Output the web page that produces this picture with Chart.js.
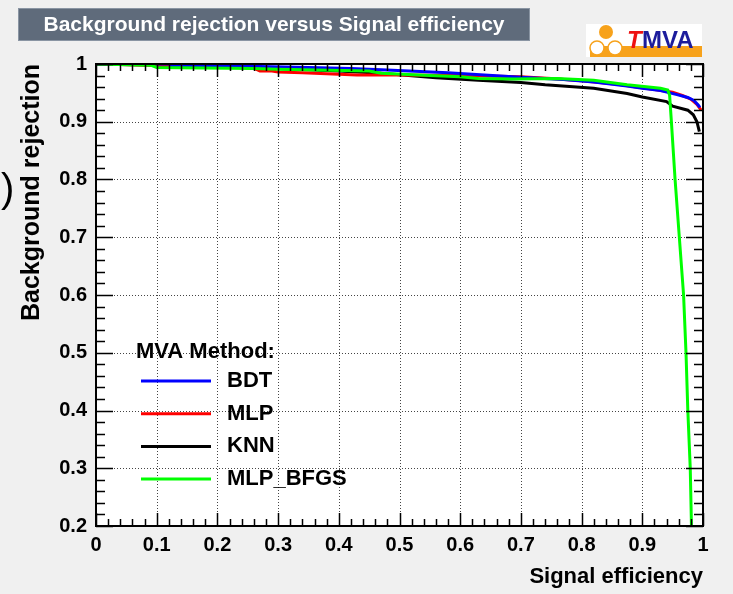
<!DOCTYPE html>
<html>
<head>
<meta charset="utf-8">
<title>Background rejection versus Signal efficiency</title>
<script src="https://cdn.jsdelivr.net/npm/chart.js@4.4.0/dist/chart.umd.min.js"></script>
<style>
  body { margin: 0; background: #f0f0f0; }
</style>
</head>
<body>
<canvas id="rocChart" width="733" height="594"></canvas>
<script>
// curve values (signal efficiency -> background rejection)
const bdtX = [0, 0.12, 0.125, 0.25, 0.35, 0.42, 0.47, 0.58, 0.70, 0.77, 0.82, 0.875, 0.90, 0.93, 0.957, 0.975, 0.985, 0.992, 0.995];
const bdtY = [1.0, 1.0, 0.997, 0.996, 0.994, 0.992, 0.990, 0.985, 0.977, 0.973, 0.969, 0.962, 0.958, 0.954, 0.947, 0.942, 0.937, 0.929, 0.925];

const mlpX = [0, 0.1, 0.2, 0.26, 0.27, 0.29, 0.30, 0.34, 0.38, 0.43, 0.5, 0.6, 0.7, 0.75, 0.8, 0.85, 0.89, 0.92, 0.95, 0.967, 0.98, 0.99, 0.997];
const mlpY = [1.0, 0.998, 0.996, 0.993, 0.988, 0.988, 0.986, 0.985, 0.983, 0.981, 0.981, 0.980, 0.978, 0.975, 0.971, 0.966, 0.960, 0.956, 0.951, 0.945, 0.939, 0.930, 0.920];

const knnX = [0, 0.1, 0.2, 0.3, 0.4, 0.47, 0.56, 0.63, 0.70, 0.74, 0.78, 0.82, 0.875, 0.90, 0.94, 0.95, 0.975, 0.984, 0.99, 0.994];
const knnY = [1.0, 0.998, 0.995, 0.992, 0.988, 0.984, 0.976, 0.972, 0.968, 0.964, 0.961, 0.958, 0.949, 0.943, 0.935, 0.927, 0.920, 0.912, 0.900, 0.883];

const bfgsX = [0, 0.09, 0.1, 0.26, 0.3, 0.45, 0.47, 0.55, 0.6, 0.63, 0.69, 0.76, 0.82, 0.875, 0.93, 0.942, 0.945, 0.948, 0.954, 0.961, 0.968, 0.972, 0.975, 0.979, 0.981];
const bfgsY = [1.0, 0.998, 0.994, 0.992, 0.991, 0.988, 0.984, 0.980, 0.978, 0.975, 0.974, 0.975, 0.972, 0.964, 0.958, 0.955, 0.946, 0.899, 0.80, 0.70, 0.60, 0.50, 0.40, 0.30, 0.20];

const methodNames = ['BDT', 'MLP', 'KNN', 'MLP_BFGS'];
const methodColors = ['#0000ff', '#ff0000', '#000000', '#00ff00'];

const xTickValues = [0, 0.1, 0.2, 0.3, 0.4, 0.5, 0.6, 0.7, 0.8, 0.9, 1];
const xTickLabels = ['0', '0.1', '0.2', '0.3', '0.4', '0.5', '0.6', '0.7', '0.8', '0.9', '1'];
const yTickValues = [0.2, 0.3, 0.4, 0.5, 0.6, 0.7, 0.8, 0.9, 1];
const yTickLabels = ['0.2', '0.3', '0.4', '0.5', '0.6', '0.7', '0.8', '0.9', '1'];

const FONT = "'Liberation Sans', Arial, Helvetica, sans-serif";

function pts(xs, ys) {
    return xs.map((x, i) => ({ x: x, y: ys[i] }));
}

// ROOT style page: title box, logo, dotted grid, frame with inner ticks, legend
const rootStyle = {
    id: 'rootStyle',
    beforeDraw(chart) {
        const ctx = chart.ctx;
        const a = chart.chartArea;
        ctx.save();
        ctx.fillStyle = '#f0f0f0';
        ctx.fillRect(0, 0, chart.width, chart.height);
        ctx.fillStyle = '#ffffff';
        ctx.fillRect(a.left, a.top, a.right - a.left, a.bottom - a.top);

        // title box
        ctx.fillStyle = '#5f6b7b';
        ctx.fillRect(18, 8, 512, 33);
        ctx.strokeStyle = '#8a95a3';
        ctx.lineWidth = 1;
        ctx.strokeRect(18.5, 8.5, 511, 32);
        ctx.fillStyle = '#ffffff';
        ctx.font = 'bold 21px ' + FONT;
        ctx.textAlign = 'center';
        ctx.textBaseline = 'middle';
        ctx.fillText('Background rejection versus Signal efficiency', 274, 25);

        // TMVA logo
        ctx.fillStyle = '#ffffff';
        ctx.fillRect(586, 24, 116, 33);
        ctx.fillStyle = '#f7a21b';
        ctx.fillRect(590, 46, 112, 11);
        ctx.beginPath();
        ctx.arc(606, 32, 7, 0, Math.PI * 2);
        ctx.fill();
        ctx.fillStyle = '#ffffff';
        ctx.strokeStyle = '#f7a21b';
        ctx.lineWidth = 1.5;
        [597, 615].forEach(cx => {
            ctx.beginPath();
            ctx.arc(cx, 48, 7, 0, Math.PI * 2);
            ctx.fill();
            ctx.stroke();
        });
        ctx.textAlign = 'left';
        ctx.textBaseline = 'alphabetic';
        ctx.font = 'italic bold 24px ' + FONT;
        ctx.fillStyle = '#ee1111';
        ctx.fillText('T', 627, 48);
        ctx.font = 'bold 24px ' + FONT;
        ctx.fillStyle = '#1c1c9c';
        ctx.fillText('MVA', 642, 48);

        // stray bracket from the neighbouring figure at the left edge
        ctx.fillStyle = '#000000';
        ctx.font = '40px ' + FONT;
        ctx.fillText(')', 1, 202);
        ctx.restore();
    },
    beforeDatasetsDraw(chart) {
        const ctx = chart.ctx;
        const a = chart.chartArea;
        const xs = chart.scales.x, ys = chart.scales.y;
        ctx.save();
        ctx.strokeStyle = '#444444';
        ctx.lineWidth = 1;
        ctx.setLineDash([1, 2]);
        xTickValues.slice(1, -1).forEach(v => {
            const px = Math.round(xs.getPixelForValue(v)) + 0.5;
            ctx.beginPath();
            ctx.moveTo(px, a.top);
            ctx.lineTo(px, a.bottom);
            ctx.stroke();
        });
        yTickValues.slice(1, -1).forEach(v => {
            const py = Math.round(ys.getPixelForValue(v)) + 0.5;
            ctx.beginPath();
            ctx.moveTo(a.left, py);
            ctx.lineTo(a.right, py);
            ctx.stroke();
        });
        ctx.restore();
    },
    afterDatasetsDraw(chart) {
        const ctx = chart.ctx;
        const a = chart.chartArea;
        const xs = chart.scales.x, ys = chart.scales.y;
        ctx.save();
        ctx.strokeStyle = '#000000';
        ctx.lineWidth = 1.5;
        // ticks every 0.02, long ones every 0.1
        for (let i = 0; i <= 50; i++) {
            const px = Math.round(xs.getPixelForValue(i * 0.02)) + 0.5;
            const len = i % 5 === 0 ? 13 : 7;
            ctx.beginPath();
            ctx.moveTo(px, a.bottom);
            ctx.lineTo(px, a.bottom - len);
            ctx.moveTo(px, a.top);
            ctx.lineTo(px, a.top + len);
            ctx.stroke();
        }
        for (let i = 0; i <= 40; i++) {
            const py = Math.round(ys.getPixelForValue(0.2 + i * 0.02)) + 0.5;
            const len = i % 5 === 0 ? 17 : 9;
            ctx.beginPath();
            ctx.moveTo(a.left, py);
            ctx.lineTo(a.left + len, py);
            ctx.moveTo(a.right, py);
            ctx.lineTo(a.right - len, py);
            ctx.stroke();
        }
        ctx.lineWidth = 2;
        ctx.strokeRect(a.left, a.top, a.right - a.left, a.bottom - a.top);

        // legend
        ctx.fillStyle = '#000000';
        ctx.font = 'bold 22px ' + FONT;
        ctx.textAlign = 'left';
        ctx.textBaseline = 'middle';
        ctx.fillText('MVA Method:', 136, 352);
        chart.data.datasets.forEach((ds, i) => {
            const y = 381 + i * 32.7;
            ctx.strokeStyle = ds.borderColor;
            ctx.lineWidth = 3;
            ctx.beginPath();
            ctx.moveTo(141, y);
            ctx.lineTo(211, y);
            ctx.stroke();
            ctx.fillText(ds.label, 227, y);
        });
        ctx.restore();
    }
};

const datasets = [
    { label: methodNames[0], data: pts(bdtX, bdtY), borderColor: methodColors[0], order: 1 },
    { label: methodNames[1], data: pts(mlpX, mlpY), borderColor: methodColors[1], order: 2 },
    { label: methodNames[2], data: pts(knnX, knnY), borderColor: methodColors[2], order: 3 },
    { label: methodNames[3], data: pts(bfgsX, bfgsY), borderColor: methodColors[3], order: 0 }
].map(d => Object.assign(d, { borderWidth: 3, pointRadius: 0, tension: 0, fill: false }));

const config = {
    type: 'line',
    data: { datasets: datasets },
    options: {
        responsive: false,
        devicePixelRatio: 1,
        animation: false,
        layout: { padding: { left: 0, top: 64, right: 30, bottom: 0 } },
        plugins: {
            legend: { display: false },
            tooltip: { enabled: false }
        },
        scales: {
            x: {
                type: 'linear',
                min: 0,
                max: 1,
                afterFit(s) { s.height = 68; },
                afterBuildTicks(s) { s.ticks = xTickValues.map(v => ({ value: v })); },
                grid: { display: false, drawTicks: false },
                border: { display: false },
                ticks: {
                    callback: (v, i) => xTickLabels[i],
                    color: '#000',
                    font: { family: FONT, size: 20, weight: 'bold' },
                    padding: 7,
                    maxRotation: 0,
                    autoSkip: false
                },
                title: {
                    display: true,
                    text: 'Signal efficiency',
                    align: 'end',
                    color: '#000',
                    font: { family: FONT, size: 22, weight: 'bold' },
                    padding: { top: 0, bottom: 4 }
                }
            },
            y: {
                type: 'linear',
                min: 0.2,
                max: 1,
                afterFit(s) { s.width = 96; },
                afterBuildTicks(s) { s.ticks = yTickValues.map(v => ({ value: v })); },
                grid: { display: false, drawTicks: false },
                border: { display: false },
                ticks: {
                    callback: (v, i) => yTickLabels[i],
                    color: '#000',
                    font: { family: FONT, size: 20, weight: 'bold' },
                    padding: 9,
                    autoSkip: false
                },
                title: {
                    display: true,
                    text: 'Background rejection',
                    align: 'end',
                    color: '#000',
                    font: { family: FONT, size: 25, weight: 'bold' },
                    padding: { top: 17, bottom: 0 }
                }
            }
        }
    },
    plugins: [rootStyle]
};

const rocChart = new Chart(document.getElementById('rocChart'), config);
</script>
</body>
</html>
